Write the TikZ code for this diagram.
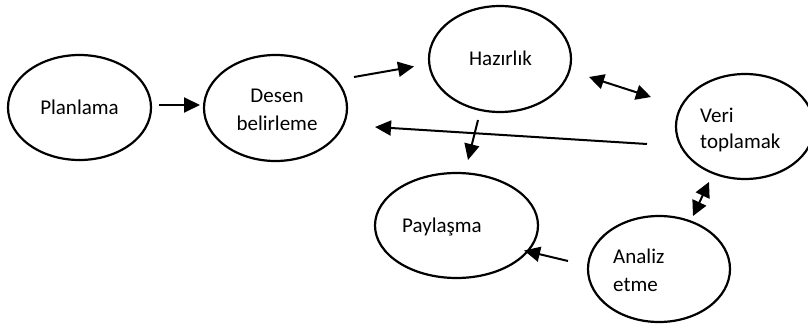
\documentclass[tikz,border=0pt]{standalone}
\usepackage{fontspec}
\setmainfont{Carlito}
\usetikzlibrary{shapes.geometric,arrows.meta}
\begin{document}
\begin{tikzpicture}[x=1pt,y=-1pt,
  oval/.style={draw,ellipse,line width=2.2pt,inner sep=0pt},
  lbl/.style={inner sep=0pt,font=\fontsize{21}{27}\selectfont},
  arr/.style={line width=2pt,-{Triangle[length=16pt,width=15pt]}},
  darr/.style={line width=2pt,{Triangle[length=15pt,width=15pt]}-{Triangle[length=15pt,width=15pt]}}]
\useasboundingbox (0,0) rectangle (808,324);
\begin{scope}
\clip (0,0) rectangle (808,324);
\node[oval,minimum width=143pt,minimum height=105pt] (plan) at (79.5,107.5) {};
\node[oval,minimum width=143pt,minimum height=106pt] (desen) at (275.5,108) {};
\node[oval,minimum width=142pt,minimum height=106pt] (hazir) at (500,59) {};
\node[oval,minimum width=138pt,minimum height=105pt] (veri) at (745,126.5) {};
\node[oval,minimum width=163pt,minimum height=105pt] (pay) at (456.5,225.5) {};
\node[oval,minimum width=142pt,minimum height=106pt] (analiz) at (659,269) {};
\end{scope}
% texts
\node[lbl,anchor=base] (planT) at (79.5,114) {Planlama};
\node[lbl,anchor=base] (desenT1) at (277,102.7) {Desen};
\node[lbl,anchor=base] (desenT2) at (277,130) {belirleme};
\node[lbl,anchor=base] (hazirT) at (500.5,65) {Hazırlık};
\node[lbl,anchor=base west] (veriT1) at (700,122) {Veri};
\node[lbl,anchor=base west] (veriT2) at (700,148.5) {toplamak};
\node[lbl,anchor=base west] (payT) at (402,232) {Paylaşma};
\node[lbl,anchor=base west] (analizT1) at (613,263.5) {Analiz};
\node[lbl,anchor=base west] (analizT2) at (613,291.5) {etme};
% connector ends
\coordinate (a1s) at (159,105);  \coordinate (a1e) at (200,105);
\coordinate (a2s) at (354,77);   \coordinate (a2e) at (414,66.5);
\coordinate (a3s) at (589,77);   \coordinate (a3e) at (651,97);
\coordinate (a4s) at (647,144);  \coordinate (a4e) at (375,127);
\coordinate (a5s) at (478,120);  \coordinate (a5e) at (468,160);
\coordinate (a6s) at (709,182);  \coordinate (a6e) at (693,216);
\coordinate (a7s) at (568,261);  \coordinate (a7e) at (524,250.5);
\draw[arr] (a1s) -- (a1e);
\draw[arr] (a2s) -- (a2e);
\draw[darr] (a3s) -- (a3e);
\draw[arr] (a4s) -- (a4e);
\draw[arr] (a5s) -- (a5e);
\draw[darr] (a6s) -- (a6e);
\draw[arr] (a7s) -- (a7e);
\end{tikzpicture}
\end{document}
